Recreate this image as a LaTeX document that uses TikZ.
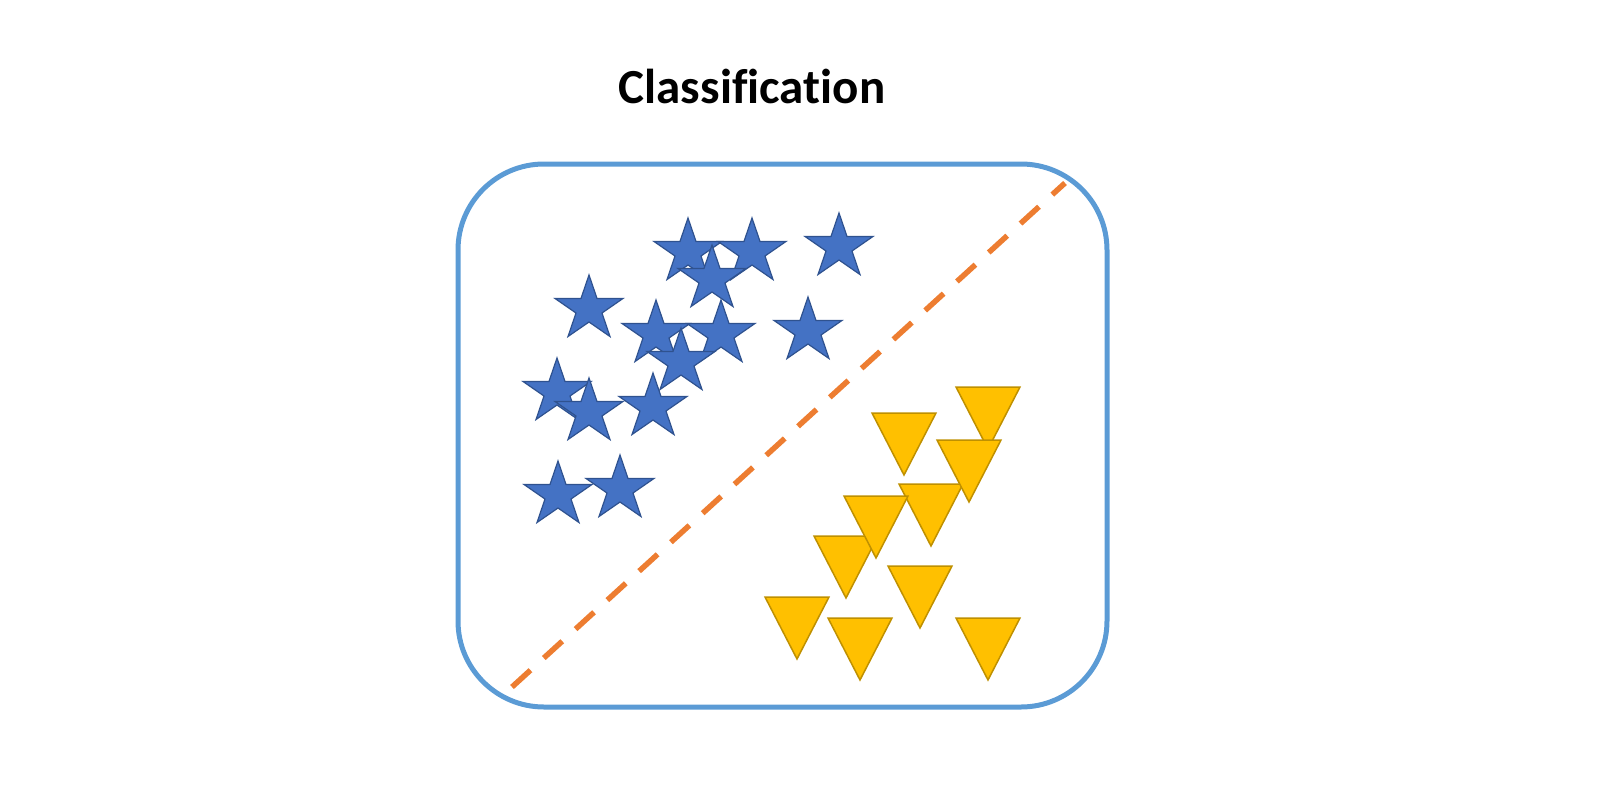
\documentclass[tikz,border=0pt]{standalone}
\usepackage{fontspec}
\newfontfamily\titlefont[Ligatures={NoCommon}]{Carlito}
\usepackage{tikz}
\definecolor{starblue}{HTML}{4472C4}
\definecolor{stardark}{HTML}{2F528F}
\definecolor{trigold}{HTML}{FFC000}
\definecolor{tridark}{HTML}{BF9000}
\definecolor{boxblue}{HTML}{5B9BD5}
\definecolor{seporange}{HTML}{ED7D31}
\tikzset{
	starmark/.pic={
		\draw [fill=starblue, draw=stardark, line width=1.2pt, line join=miter]
			(0,-34) -- (8.02,-10.52) -- (33.95,-10.5) -- (12.98,4.02) -- (20.98,27.5)
			-- (0,13) -- (-20.98,27.5) -- (-12.98,4.02) -- (-33.95,-10.5) -- (-8.02,-10.52) -- cycle;
	},
	trimark/.pic={
		\draw [fill=trigold, draw=tridark, line width=1.5pt] (-32,0) -- (32,0) -- (0,62) -- cycle;
	},
}

\begin{document}
\begin{tikzpicture}[x=1pt, y=-1pt]
	\useasboundingbox (0,0) rectangle (1618,788);
	\node (title) [anchor=base] at (752,103) {\titlefont\bfseries\fontsize{49}{58}\selectfont Classification};
	\draw [boxblue, line width=5pt, rounded corners=86pt] (458,164) rectangle (1107,707);
	% stars
	\foreach \x/\y in {688/252, 752/252, 712/279, 839/247, 589/309, 656/334, 721/334,
		681/362, 808/331, 557/392, 589/412, 653/407, 558/495, 620/489}
		\pic at (\x,\y) {starmark};
	% triangles
	\foreach \x/\y in {988/387, 904/413, 931/484, 969/440, 846/536, 876/496,
		920/566, 797/597, 860/618, 988/618}
		\pic at (\x,\y) {trimark};
	\coordinate (lo) at (512,687);
	\coordinate (hi) at (1065,183);
	\draw [seporange, line width=5.5pt, dash pattern=on 25pt off 18pt] (lo) -- (hi);
\end{tikzpicture}
\end{document}
